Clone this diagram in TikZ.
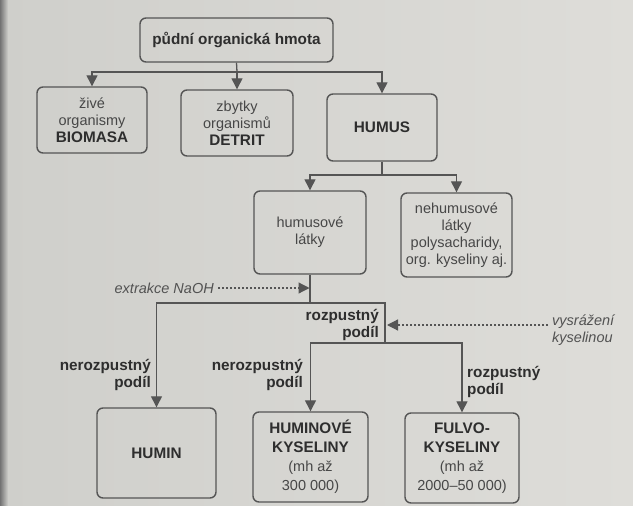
\documentclass[tikz,border=0pt]{standalone}
\usepackage{fontspec}
\setmainfont{Liberation Sans}
\usetikzlibrary{arrows.meta}
\definecolor{bgl}{HTML}{CFCFCB}
\definecolor{bgr}{HTML}{DEDDD9}
\definecolor{linec}{HTML}{555555}
\definecolor{txtc}{HTML}{474747}
\definecolor{btxt}{HTML}{2E2E2E}
\definecolor{itxt}{HTML}{525252}
\newcommand\regfont{\fontsize{14.5}{17}\selectfont}
\newcommand\bfnt{\fontsize{15.3}{17}\selectfont\bfseries\color{btxt}}
\newcommand\lowfont{\fontsize{14.5}{19}\selectfont}
\begin{document}
\begin{tikzpicture}[x=1pt,y=-1pt,
  box/.style={draw=linec, line width=1.4pt, rounded corners=6pt, inner sep=0pt,
    align=center, text=txtc, font=\regfont},
  lowbox/.style={box, font=\lowfont},
  arr/.style={draw=linec, line width=1.3pt, -{Triangle[width=11pt,length=11pt]}},
  plain/.style={draw=linec, line width=1.3pt},
  dotarr/.style={draw=linec, line width=1.2pt, dash pattern=on 2.2pt off 1.8pt,
    -{Triangle[width=11pt,length=11pt]}},
  blbl/.style={inner sep=0pt, font=\bfnt},
  ilbl/.style={inner sep=0pt, font=\regfont\itshape, text=itxt}
]
\useasboundingbox (0,0) rectangle (633,506);
\shade[left color=bgl, right color=bgr] (0,0) rectangle (633,506);
\shade[left color=black!55, right color=bgl] (0,0) rectangle (8,506);

% boxes
\node[box, minimum width=193pt, minimum height=44pt] (top) at (236.5,40) {\bfnt půdní organická hmota};
\node[box, minimum width=110pt, minimum height=66pt] (bio) at (92,120) {živé\\organismy\\{\bfnt BIOMASA}};
\node[box, minimum width=112pt, minimum height=66pt] (det) at (237,123) {zbytky\\organismů\\{\bfnt DETRIT}};
\node[box, minimum width=110pt, minimum height=67pt] (hum) at (382,127.5) {\bfnt HUMUS};
\node[box, minimum width=112pt, minimum height=83pt] (hl) at (310,232.5) {humusové\\látky};
\node[box, minimum width=111pt, minimum height=84pt] (nh) at (456.5,235) {nehumusové\\látky\\polysacharidy,\\org. kyseliny aj.};
\node[box, minimum width=119pt, minimum height=90pt] (humin) at (156.5,453) {\bfnt HUMIN};
\node[lowbox, minimum width=115pt, minimum height=90pt] (hk) at (310.5,457) {{\bfnt HUMINOVÉ}\\{\bfnt KYSELINY}\\(mh až\\300 000)};
\node[lowbox, minimum width=114pt, minimum height=90pt] (fk) at (462,458) {{\bfnt FULVO-}\\{\bfnt KYSELINY}\\(mh až\\2000–50 000)};

% labels
\node[ilbl, anchor=east] (naoh) at (214,288) {extrakce NaOH};
\node[ilbl, anchor=west, align=left] (vys) at (552,330) {vysrážení\\kyselinou};
\node[blbl, anchor=east, align=right] (rp) at (379,325) {rozpustný\\podíl};
\node[blbl, anchor=east, align=right] (np1) at (151,374.5) {nerozpustný\\podíl};
\node[blbl, anchor=east, align=right] (np2) at (303,374.5) {nerozpustný\\podíl};
\node[blbl, anchor=west, align=left] (rp2) at (467,382) {rozpustný\\podíl};

% junctions
\coordinate (j1) at (237,72);
\coordinate (j2) at (382,175);
\coordinate (j3) at (310,303);
\coordinate (fl) at (156.5,303);
\coordinate (fr) at (385,303);
\coordinate (fb) at (385,343);
\coordinate (naohtip) at (309.5,288);
\coordinate (vysst) at (548,325);
\coordinate (vystip) at (387,325);

% connectors
\draw[plain] (top.south) -- (j1);
\draw[arr] (j1) -| (bio.north);
\draw[arr] (j1) -- (det.north);
\draw[arr] (j1) -| (hum.north);
\draw[plain] (hum.south) -- (j2);
\draw[arr] (j2) -| (hl.north);
\draw[arr] (j2) -| (nh.north);
\draw[plain] (hl.south) -- (j3);
\draw[arr] (fb) -- (fr) -- (fl) -- (humin.north);
\draw[arr] (fb) -| (hk.north);
\draw[arr] (fb) -| (fk.north);
\draw[dotarr] (naoh.east |- naohtip) ++(4,0) -- (naohtip);
\draw[dotarr] (vysst) -- (vystip);
\end{tikzpicture}
\end{document}
